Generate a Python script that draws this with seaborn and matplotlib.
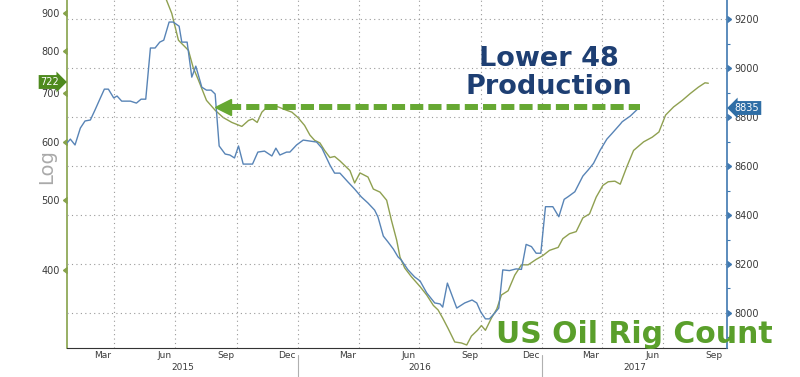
import matplotlib
matplotlib.use('Agg')
import matplotlib.pyplot as plt
import matplotlib.dates as mdates
import matplotlib.ticker as mticker
import matplotlib.markers as mmarkers
import matplotlib.transforms as mtrans
import pandas as pd
import seaborn as sns

# Lower 48 production (right axis, kb/d)
prod_dates = [
    '2015-01-20', '2015-01-25', '2015-02-01', '2015-02-09', '2015-02-16', '2015-02-24',
    '2015-03-03', '2015-03-11', '2015-03-17', '2015-03-23', '2015-03-31', '2015-04-05',
    '2015-04-12', '2015-04-25', '2015-05-04', '2015-05-11', '2015-05-18', '2015-05-25',
    '2015-06-01', '2015-06-08', '2015-06-14', '2015-06-22', '2015-06-28', '2015-07-07',
    '2015-07-11', '2015-07-19', '2015-07-26', '2015-08-01', '2015-08-10', '2015-08-17',
    '2015-08-24', '2015-08-30', '2015-09-05', '2015-09-14', '2015-09-21', '2015-09-28',
    '2015-10-04', '2015-10-11', '2015-10-25', '2015-11-02', '2015-11-12', '2015-11-23',
    '2015-11-29', '2015-12-05', '2015-12-15', '2015-12-20', '2015-12-30', '2016-01-09',
    '2016-01-19', '2016-01-29', '2016-02-06', '2016-02-18', '2016-02-25', '2016-03-04',
    '2016-03-16', '2016-03-26', '2016-04-05', '2016-04-15', '2016-04-25', '2016-04-30',
    '2016-05-08', '2016-05-15', '2016-05-23', '2016-05-30', '2016-06-04', '2016-06-14',
    '2016-06-24', '2016-07-02', '2016-07-12', '2016-07-24', '2016-08-01', '2016-08-05',
    '2016-08-12', '2016-08-26', '2016-09-07', '2016-09-18', '2016-09-25', '2016-10-01',
    '2016-10-08', '2016-10-14', '2016-10-22', '2016-10-28', '2016-11-03', '2016-11-13',
    '2016-11-23', '2016-12-01', '2016-12-08', '2016-12-16', '2016-12-23', '2016-12-30',
    '2017-01-06', '2017-01-17', '2017-01-26', '2017-02-03', '2017-02-09', '2017-02-19',
    '2017-03-03', '2017-03-11', '2017-03-19', '2017-03-29', '2017-04-08', '2017-04-15',
    '2017-04-28', '2017-05-01', '2017-05-13', '2017-05-25',
]
prod_vals = [
    8694, 8710, 8686, 8755, 8784, 8788,
    8829, 8878, 8914, 8914, 8878, 8886,
    8865, 8865, 8857, 8873, 8873, 9082,
    9082, 9106, 9114, 9188, 9188, 9171,
    9106, 9106, 8963, 9008, 8922, 8910,
    8910, 8894, 8682, 8649, 8645, 8633,
    8682, 8608, 8608, 8657, 8661, 8641,
    8673, 8645, 8657, 8657, 8686, 8706,
    8702, 8698, 8673, 8604, 8571, 8571,
    8535, 8506, 8474, 8449, 8420, 8392,
    8314, 8290, 8261, 8229, 8216, 8176,
    8147, 8131, 8082, 8041, 8037, 8024,
    8122, 8020, 8041, 8053, 8041, 8004,
    7976, 7976, 8000, 8020, 8176, 8173,
    8180, 8178, 8280, 8271, 8244, 8244,
    8434, 8434, 8393, 8464, 8475, 8495,
    8559, 8584, 8611, 8665, 8710, 8731,
    8771, 8781, 8804, 8835,
]

# US oil rig count (left axis, log)
rig_dates = [
    '2015-05-24', '2015-06-08', '2015-06-18', '2015-06-26', '2015-07-06', '2015-07-21',
    '2015-07-28', '2015-08-05', '2015-08-17', '2015-08-30', '2015-09-11', '2015-09-24',
    '2015-10-09', '2015-10-19', '2015-10-25', '2015-11-01', '2015-11-08', '2015-11-16',
    '2015-11-29', '2015-12-15', '2015-12-23', '2016-01-01', '2016-01-11', '2016-01-19',
    '2016-01-26', '2016-02-03', '2016-02-10', '2016-02-18', '2016-02-25', '2016-03-04',
    '2016-03-11', '2016-03-19', '2016-03-26', '2016-04-03', '2016-04-15', '2016-04-23',
    '2016-05-03', '2016-05-13', '2016-05-20', '2016-05-28', '2016-06-02', '2016-06-09',
    '2016-06-19', '2016-07-02', '2016-07-12', '2016-07-22', '2016-07-29', '2016-08-05',
    '2016-08-13', '2016-08-23', '2016-09-02', '2016-09-10', '2016-09-17', '2016-09-26',
    '2016-10-02', '2016-10-08', '2016-10-17', '2016-10-25', '2016-11-01', '2016-11-11',
    '2016-11-21', '2016-12-01', '2016-12-11', '2016-12-23', '2017-01-02', '2017-01-12',
    '2017-01-25', '2017-02-01', '2017-02-11', '2017-02-21', '2017-03-03', '2017-03-13',
    '2017-03-23', '2017-04-02', '2017-04-10', '2017-04-20', '2017-04-28', '2017-05-08',
    '2017-05-18', '2017-06-02', '2017-06-15', '2017-06-25', '2017-07-05', '2017-07-17',
    '2017-07-30', '2017-08-11', '2017-08-23', '2017-09-02', '2017-09-07',
]
rig_vals = [
    1078, 993, 939, 900, 827, 801,
    759, 729, 684, 663, 648, 638,
    630, 642, 645, 638, 659, 670,
    672, 663, 659, 648, 632, 613,
    603, 598, 584, 571, 573, 565,
    557, 548, 527, 544, 537, 517,
    512, 499, 469, 440, 417, 403,
    392, 380, 370, 358, 353, 344,
    333, 319, 318, 316, 325, 331,
    336, 331, 344, 354, 370, 375,
    394, 407, 407, 414, 419, 426,
    430, 442, 449, 452, 472, 478,
    504, 523, 529, 530, 525, 555,
    584, 600, 609, 619, 653, 670,
    684, 699, 713, 723, 722,
]

left_ticks = [400, 500, 600, 700, 800, 900]
right_ticks = [8000, 8200, 8400, 8600, 8800, 9000, 9200]
years = ['2015', '2016', '2017']

prod = pd.DataFrame({'date': pd.to_datetime(prod_dates), 'prod': prod_vals})
rig = pd.DataFrame({'date': pd.to_datetime(rig_dates), 'rigs': rig_vals})

GREEN_LINE = '#8fa050'
GREEN_AXIS = '#86a24a'
BLUE_LINE = '#5884b6'
BLUE_AXIS = '#3f78b0'
GRID = '#9a9a9a'
TXT = '#3a3a3a'

sns.set_style('white')
plt.rcParams['font.family'] = ['DejaVu Sans']

fig = plt.figure(figsize=(8, 3.77), dpi=100)
ax = fig.add_axes([67 / 800, 29 / 377, 660 / 800, 348 / 377])
ax2 = ax.twinx()

sns.lineplot(data=rig, x='date', y='rigs', ax=ax, color=GREEN_LINE, linewidth=1.0)
sns.lineplot(data=prod, x='date', y='prod', ax=ax2, color=BLUE_LINE, linewidth=1.0)

xmin, xmax = pd.Timestamp('2015-01-20'), pd.Timestamp('2017-10-05')
ax.set_xlim(xmin, xmax)

# left log axis
ax.set_yscale('log')
ax.set_ylim(313, 939)
ax.yaxis.set_major_locator(mticker.FixedLocator(left_ticks))
ax.yaxis.set_major_formatter(mticker.FuncFormatter(lambda v, _: f'{v:.0f}'))
ax.yaxis.set_minor_locator(mticker.NullLocator())
ax.tick_params(axis='y', length=3.5, width=1, color=GREEN_AXIS, labelcolor=TXT,
               labelsize=7, pad=1.5)

# right linear axis
ax2.set_ylim(7857, 9278)
ax2.yaxis.set_major_locator(mticker.FixedLocator(right_ticks))
ax2.yaxis.set_minor_locator(mticker.MultipleLocator(100))
ax2.yaxis.set_major_formatter(mticker.FuncFormatter(lambda v, _: f'{v:.0f}'))
ax2.tick_params(axis='y', which='major', length=3.5, width=1, color=BLUE_AXIS,
                labelcolor=TXT, labelsize=7, pad=1.5)
ax2.tick_params(axis='y', which='minor', length=2.5, width=0.8, color=BLUE_AXIS)
ax2.grid(axis='y', linestyle=(0, (1, 3)), color=GRID, linewidth=0.8)
ax.grid(False)

for t in ax.yaxis.get_major_ticks():
    t.tick1line.set_marker(mmarkers.CARETLEFTBASE)
    t.tick1line.set_markersize(4)
for t in ax2.yaxis.get_major_ticks():
    t.tick2line.set_marker(mmarkers.CARETRIGHTBASE)
    t.tick2line.set_markersize(4)

# spines
for a in (ax, ax2):
    a.spines['top'].set_visible(False)
ax.spines['right'].set_visible(False)
ax2.spines['left'].set_visible(False)
ax2.spines['bottom'].set_visible(False)
ax.spines['left'].set_color(GREEN_AXIS)
ax2.spines['right'].set_color(BLUE_AXIS)
ax.spines['bottom'].set_color('#333333')
ax.spines['left'].set_linewidth(1.2)
ax2.spines['right'].set_linewidth(1.2)

ax.set_xlabel('')
ax.set_ylabel('')
ax2.set_ylabel('')

# x axis: month labels mid-month, quarter gridlines, monthly ticks
ax.xaxis.set_major_locator(mdates.MonthLocator(bymonth=[3, 6, 9, 12], bymonthday=15))
ax.xaxis.set_major_formatter(mdates.DateFormatter('%b'))
ax.xaxis.set_minor_locator(mdates.MonthLocator())
ax.tick_params(axis='x', which='major', length=0, labelsize=6.5, labelcolor=TXT, pad=2)
ax.tick_params(axis='x', which='minor', length=3, width=0.8, color='#333333')

for q in pd.date_range('2015-04-01', '2017-07-01', freq='QS'):
    ax.axvline(q, linestyle=(0, (1, 3)), color=GRID, linewidth=0.8, zorder=0)

trans = mtrans.blended_transform_factory(ax.transData, ax.transAxes)
bounds = [xmin, pd.Timestamp('2016-01-01'), pd.Timestamp('2017-01-01'), xmax]
for i, yr in enumerate(years):
    mid = bounds[i] + (bounds[i + 1] - bounds[i]) / 2
    ax.text(mid, -0.055, yr, transform=trans, ha='center', va='center',
            fontsize=6.5, color=TXT)
for b in bounds[1:3]:
    ax.plot([b, b], [-0.02, -0.09], transform=trans, color='#b0b0b0',
            linewidth=0.8, clip_on=False)

# arrow back to the same production level
arrow_y = 8842
ax2.plot([pd.Timestamp('2015-09-18'), pd.Timestamp('2017-05-28')], [arrow_y, arrow_y],
         color='#66a832', linewidth=4.3, linestyle=(0, (2.2, 0.85)), zorder=5)
ax2.plot([pd.Timestamp('2015-09-11')], [arrow_y], marker='<', markersize=11,
         color='#66a832', zorder=5)

fig.text(549 / 800, 1 - 73 / 377, 'Lower 48\nProduction', ha='center', va='center',
         fontsize=19.5, fontweight='bold', color='#1e3f73', linespacing=1.15)
fig.text(634 / 800, 1 - 343 / 377, 'US Oil Rig Count', ha='center', va='baseline',
         fontsize=21.5, fontweight='bold', color='#5a9f2b')

fig.text(47 / 800, 1 - 167 / 377, 'Log', rotation=90, ha='center', va='center',
         fontsize=14, color='#aaaaaa')

fig.text(50 / 800, 1 - 82 / 377, f'{rig_vals[-1]}', ha='center', va='center',
         fontsize=7, color='white',
         bbox=dict(boxstyle='rarrow,pad=0.2', fc='#4e8a1e', ec='none'))
fig.text(747 / 800, 1 - 108 / 377, f'{prod_vals[-1]}', ha='center', va='center',
         fontsize=7, color='white',
         bbox=dict(boxstyle='larrow,pad=0.2', fc='#2f6ea6', ec='none'))

fig.savefig('out.png', dpi=100)
